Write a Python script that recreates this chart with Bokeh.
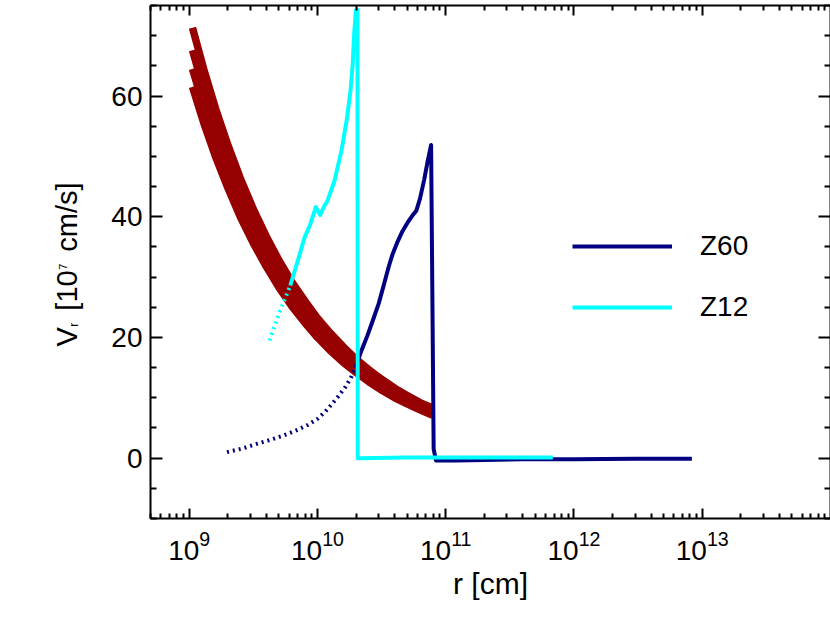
from bokeh.plotting import figure
from bokeh.layouts import row
from bokeh.models import (Range1d, LogAxis, LinearAxis, FixedTicker, Label, Legend,
                          LegendItem, CustomJSTickFormatter, LogTickFormatter)
from bokeh.embed import file_html
from bokeh.resources import INLINE
import math

FONT = "Liberation Sans"

# ---------------- data ----------------
# escape-velocity band (four thick curves)
esc_r = [1.06e9, 1.3e9, 1.6e9, 2.0e9, 2.5e9, 3.2e9, 4.0e9, 5.0e9, 6.3e9, 8.0e9,
         1.0e10, 1.26e10, 1.6e10, 2.0e10, 2.5e10, 3.2e10, 4.0e10, 5.0e10, 6.3e10, 7.9e10]
esc_v_a = [71.3, 64.4, 58.0, 51.9, 46.4, 41.0, 36.7, 32.8, 29.2, 26.0,
           23.2, 20.7, 18.4, 16.4, 14.7, 13.0, 11.6, 10.4, 9.2, 8.3]
esc_v_b = [67.6, 61.0, 55.0, 49.2, 44.0, 38.9, 34.8, 31.1, 27.7, 24.6,
           22.0, 19.6, 17.4, 15.6, 13.9, 12.3, 11.0, 9.8, 8.8, 7.8]
esc_v_c = [64.5, 58.2, 52.5, 47.0, 42.0, 37.1, 33.2, 29.7, 26.5, 23.5,
           21.0, 18.7, 16.6, 14.8, 13.3, 11.7, 10.5, 9.4, 8.4, 7.5]
esc_v_d = [61.5, 55.5, 50.0, 44.8, 40.0, 35.4, 31.7, 28.3, 25.2, 22.4,
           20.0, 17.8, 15.8, 14.2, 12.7, 11.2, 10.0, 9.0, 8.0, 7.1]

# Z60 : dotted inner part, then solid
z60_dot_r = [1.97e9, 2.6e9, 3.4e9, 4.4e9, 5.5e9, 7.0e9, 8.4e9, 1.0e10, 1.15e10,
             1.3e10, 1.45e10, 1.65e10, 1.82e10, 1.98e10]
z60_dot_v = [1.0, 1.6, 2.4, 3.1, 3.8, 4.7, 5.5, 6.5, 7.7, 9.0, 10.2, 11.8, 13.3, 15.0]
z60_r = [1.98e10, 2.2e10, 2.45e10, 2.7e10, 3.0e10, 3.3e10, 3.6e10, 3.85e10, 4.2e10,
         4.6e10, 5.1e10, 5.5e10, 5.9e10, 6.3e10, 6.8e10, 7.2e10, 7.69e10, 8.05e10,
         8.4e10, 1.2e11, 2.0e11, 4.0e11, 1.0e12, 3.0e12, 8.3e12]
z60_v = [15.0, 17.8, 20.3, 22.8, 25.6, 28.8, 31.8, 33.8, 35.8, 37.6, 39.2, 40.2,
         41.0, 43.0, 46.2, 49.0, 51.9, 1.5, -0.4, -0.4, -0.3, -0.2, -0.2, -0.1, -0.1]

# Z12 : dotted inner part, then solid
z12_dot_r = [4.23e9, 4.6e9, 5.04e9, 5.6e9, 6.14e9]
z12_dot_v = [19.5, 21.7, 24.1, 26.5, 28.6]
z12_r = [6.14e9, 7.23e9, 7.91e9, 8.81e9, 9.7e9, 1.05e10, 1.12e10, 1.2e10, 1.36e10,
         1.54e10, 1.69e10, 1.81e10, 1.88e10, 1.93e10, 1.99e10, 2.05e10, 2.06e10,
         2.1e10, 5.0e10, 1.5e11, 6.84e11]
z12_v = [28.6, 33.6, 36.5, 38.8, 41.6, 40.3, 41.6, 42.7, 46.0, 51.0, 56.0, 60.9,
         65.1, 70.1, 74.2, 74.3, 0.0, 0.0, 0.1, 0.1, 0.1]

series_names = ["Z60", "Z12"]
x_major_exp = [9, 10, 11, 12, 13]
y_major = [0, 20, 40, 60]
x_title = "r [cm]"
# y title pieces: (text, kind)  n = normal, sub = subscript, sup = superscript
y_title_parts = [("V", "n"), ("r", "sub"), ("[10", "n"), ("7", "sup"), ("cm/s]", "n")]

# ---------------- styling ----------------
RED = "#960000"
NAVY = "#000080"
CYAN = "#00ffff"
LABEL_W = 100  # width of the strip that holds the rotated y title
H = 620
FRAME_TOP, FRAME_BOTTOM = 5, 518

x_major = [10.0 ** e for e in x_major_exp]
x_minor = [m * 10.0 ** e for e in range(8, 14) for m in range(2, 10)]
y_minor = [v for v in range(-10, 80, 5) if v not in y_major]

p = figure(width=830 - LABEL_W, height=H, x_axis_type="log",
           x_range=Range1d(10 ** 8.698, 10 ** 14.0), y_range=Range1d(-10, 75),
           output_backend="svg", toolbar_location=None,
           min_border_left=150 - LABEL_W, min_border_right=0, min_border_top=FRAME_TOP,
           min_border_bottom=H - FRAME_BOTTOM)
p.grid.visible = False
p.outline_line_color = None
p.background_fill_color = "white"
p.border_fill_color = "white"

blank = CustomJSTickFormatter(code="return ''")


def style(ax, major, minor, tin, tmin, labels):
    ax.ticker = FixedTicker(ticks=major, minor_ticks=minor)
    ax.axis_line_width = 2
    ax.axis_line_color = "black"
    ax.major_tick_line_width = 2
    ax.minor_tick_line_width = 2
    ax.major_tick_line_color = "black"
    ax.minor_tick_line_color = "black"
    ax.major_tick_out = 0
    ax.minor_tick_out = 0
    ax.major_tick_in = tin
    ax.minor_tick_in = tmin
    if labels:
        ax.major_label_text_font = FONT
        ax.major_label_text_font_size = "28px"
        ax.major_label_text_color = "black"
        ax.major_label_standoff = 8
    else:
        ax.formatter = blank
        ax.major_label_text_font_size = "0px"
        ax.major_label_standoff = 0
        ax.axis_label_standoff = 0


xa = p.xaxis[0]
style(xa, x_major, x_minor, 10, 5, True)
xa.formatter = LogTickFormatter()
xa.major_label_standoff = 12
xa.axis_label = x_title
xa.axis_label_text_font = FONT
xa.axis_label_text_font_size = "30px"
xa.axis_label_text_font_style = "normal"
xa.axis_label_text_color = "black"
xa.axis_label_standoff = 4

style(p.yaxis[0], y_major, y_minor, 12, 6, True)
top = LogAxis()
style(top, x_major, x_minor, 10, 5, False)
p.add_layout(top, "above")
right = LinearAxis()
style(right, y_major, y_minor, 12, 6, False)
p.add_layout(right, "right")

# ---------------- glyphs ----------------
for vv in (esc_v_a, esc_v_b, esc_v_c, esc_v_d):
    p.line(esc_r, vv, line_color=RED, line_width=7.5, line_cap="butt", line_join="round")

p.line(z60_dot_r, z60_dot_v, line_color=NAVY, line_width=4, line_dash="2 4")
r60 = p.line(z60_r, z60_v, line_color=NAVY, line_width=4, line_join="round")
p.line(z12_dot_r, z12_dot_v, line_color=CYAN, line_width=4, line_dash="2 4")
r12 = p.line(z12_r, z12_v, line_color=CYAN, line_width=4, line_join="round")

legend = Legend(items=[LegendItem(label=series_names[0], renderers=[r60]),
                       LegendItem(label=series_names[1], renderers=[r12])],
                location=(422, 191), orientation="vertical",
                glyph_width=100, glyph_height=40, label_height=40,
                label_standoff=28, spacing=21, padding=0, margin=0,
                border_line_color=None, background_fill_alpha=0,
                label_text_font=FONT, label_text_font_size="28px",
                label_text_color="black")
p.add_layout(legend)

# ---------------- strip with the rotated y title ----------------
# its frame is aligned with the main frame (page y 5..518); data y == page y
q = figure(width=LABEL_W, height=H, x_range=Range1d(0, LABEL_W),
           y_range=Range1d(FRAME_BOTTOM, FRAME_TOP),
           output_backend="svg", toolbar_location=None,
           x_axis_location=None, y_axis_location=None,
           min_border_left=0, min_border_right=0, min_border_top=FRAME_TOP,
           min_border_bottom=H - FRAME_BOTTOM)
q.grid.visible = False
q.outline_line_color = None
q.background_fill_color = "white"
q.border_fill_color = "white"

W = {" ": 0.278, "[": 0.278, "]": 0.278, "V": 0.667, "r": 0.333, "c": 0.5,
     "m": 0.833, "/": 0.278, "s": 0.5}
for d in "0123456789":
    W[d] = 0.556


def tw(t, size):
    return sum(W[ch] for ch in t) * size


SIZES = {"n": 29, "sub": 12, "sup": 11}
BASE = {"n": 77.0, "sub": 78.0, "sup": 66.0}     # baseline x (pixels) of each kind
GAP_AFTER = {"V": 0.5, "r": 12.0, "[10": 0.5, "7": 12.0, "cm/s]": 0.0}
page_y = 346.0        # where the title starts (pixels from the top)
for t, kind in y_title_parts:
    s = SIZES[kind]
    w = tw(t, s)
    cy = page_y - w / 2
    cx = BASE[kind] - 0.35 * s
    q.add_layout(Label(x=cx, y=cy, text=t, angle=math.pi / 2,
                       text_align="center", text_baseline="middle", text_font=FONT,
                       text_font_size=f"{s}px", text_color="black"))
    page_y -= w + GAP_AFTER[t]

layout = row(q, p, spacing=0)
open("out.html", "w").write(file_html(layout, INLINE))
